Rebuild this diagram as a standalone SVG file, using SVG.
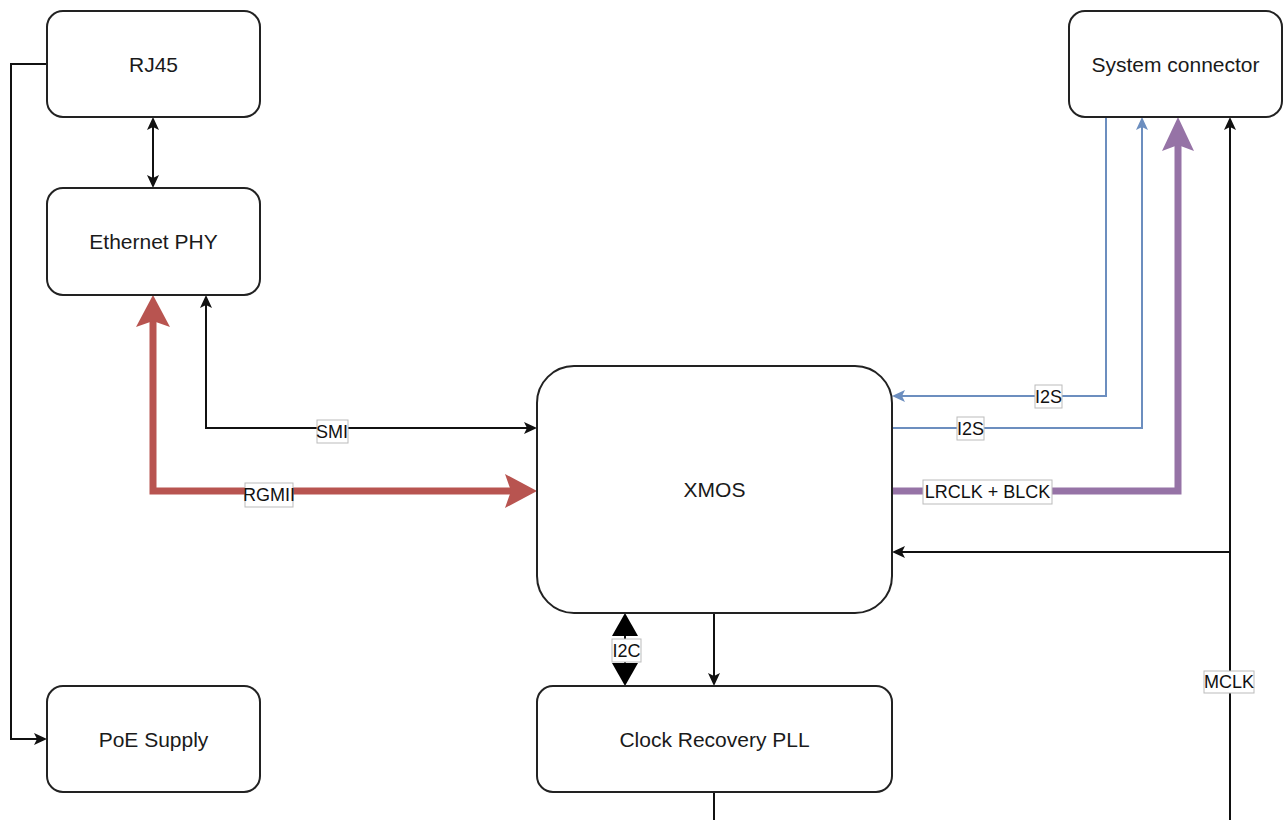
<svg xmlns="http://www.w3.org/2000/svg" width="1284" height="820" viewBox="0 0 1284 820">
<style>
.node rect{fill:#fff;stroke:#222;stroke-width:2}
.node text{font-family:"Liberation Sans",Arial,sans-serif;font-size:21px;fill:#1a1a1a;text-anchor:middle;dominant-baseline:central}
.c{fill:none;stroke:#111;stroke-width:2}
.blue{stroke:#6c8ebf}
.red{stroke:#b85450;stroke-width:7}
.purple{stroke:#9673a6;stroke-width:7}
.lbl rect{fill:#fff;stroke:#bbb;stroke-width:1}
.lbl text{font-family:"Liberation Sans",Arial,sans-serif;font-size:18px;fill:#111;text-anchor:middle;dominant-baseline:central}
</style>
<defs>
<marker id="ab" markerUnits="userSpaceOnUse" markerWidth="13" markerHeight="12" refX="3" refY="6" orient="auto-start-reverse"><path d="M0,0 L13,6 L0,12 L3,6 Z" fill="#111"/></marker>
<marker id="abl" markerUnits="userSpaceOnUse" markerWidth="13" markerHeight="12" refX="3" refY="6" orient="auto-start-reverse"><path d="M0,0 L13,6 L0,12 L3,6 Z" fill="#6c8ebf"/></marker>
<marker id="ared" markerUnits="userSpaceOnUse" markerWidth="32" markerHeight="34" refX="6" refY="17" orient="auto-start-reverse"><path d="M0,0 L32,17 L0,34 L6,17 Z" fill="#b85450"/></marker>
<marker id="apur" markerUnits="userSpaceOnUse" markerWidth="34" markerHeight="32" refX="6" refY="16" orient="auto-start-reverse"><path d="M0,0 L34,16 L0,32 L6,16 Z" fill="#9673a6"/></marker>
<marker id="atri" markerUnits="userSpaceOnUse" markerWidth="23" markerHeight="26" refX="0" refY="13" orient="auto-start-reverse"><path d="M0,0 L23,13 L0,26 Z" fill="#000"/></marker>
</defs>
<g id="connectors">
<path class="c" d="M47,64 H11 V739 H37" marker-end="url(#ab)"/>
<path class="c" d="M153,127 V178" marker-start="url(#ab)" marker-end="url(#ab)"/>
<path class="c" d="M206,305 V428 H527" marker-start="url(#ab)" marker-end="url(#ab)"/>
<path class="c red" d="M153,321 V491 H511" marker-start="url(#ared)" marker-end="url(#ared)"/>
<path class="c blue" d="M1106,117 V396 H902" marker-end="url(#abl)"/>
<path class="c blue" d="M892,428 H1142 V127" marker-end="url(#abl)"/>
<path class="c purple" d="M892,491 H1178 V145" marker-end="url(#apur)"/>
<path class="c" d="M1230,820 V127" marker-end="url(#ab)"/>
<path class="c" d="M1230,552 H902" marker-end="url(#ab)"/>
<path class="c" d="M625,636 V663" marker-start="url(#atri)" marker-end="url(#atri)"/>
<path class="c" d="M714,613 V676" marker-end="url(#ab)"/>
<path class="c" d="M714,792 V820"/>
<g class="lbl"><rect x="317" y="420" width="31" height="23"/><text x="332" y="431.5">SMI</text></g>
<g class="lbl"><rect x="245" y="483" width="48" height="24"/><text x="269" y="495">RGMII</text></g>
<g class="lbl"><rect x="1035" y="385" width="27" height="23"/><text x="1048.5" y="396.5">I2S</text></g>
<g class="lbl"><rect x="957" y="417" width="27" height="23"/><text x="970.5" y="428.5">I2S</text></g>
<g class="lbl"><rect x="923" y="480" width="129" height="24"/><text x="987.5" y="492">LRCLK + BLCK</text></g>
<g class="lbl"><rect x="1204" y="671" width="50" height="22"/><text x="1229" y="682">MCLK</text></g>
<g class="lbl"><rect x="612" y="639" width="29" height="23"/><text x="626.5" y="650.5">I2C</text></g>
</g>
<g id="rj45" class="node"><rect x="47" y="11" width="213" height="106" rx="16"/><text x="153.5" y="64">RJ45</text></g>
<g id="ethernet-phy" class="node"><rect x="47" y="188" width="213" height="107" rx="16"/><text x="153.5" y="241.5">Ethernet PHY</text></g>
<g id="poe-supply" class="node"><rect x="47" y="686" width="213" height="106" rx="16"/><text x="153.5" y="739">PoE Supply</text></g>
<g id="system-connector" class="node"><rect x="1069" y="11" width="213" height="106" rx="16"/><text x="1175.5" y="64">System connector</text></g>
<g id="xmos" class="node"><rect x="537" y="366" width="355" height="247" rx="37"/><text x="714.5" y="489.5">XMOS</text></g>
<g id="clock-recovery-pll" class="node"><rect x="537" y="686" width="355" height="106" rx="16"/><text x="714.5" y="739">Clock Recovery PLL</text></g>
</svg>
